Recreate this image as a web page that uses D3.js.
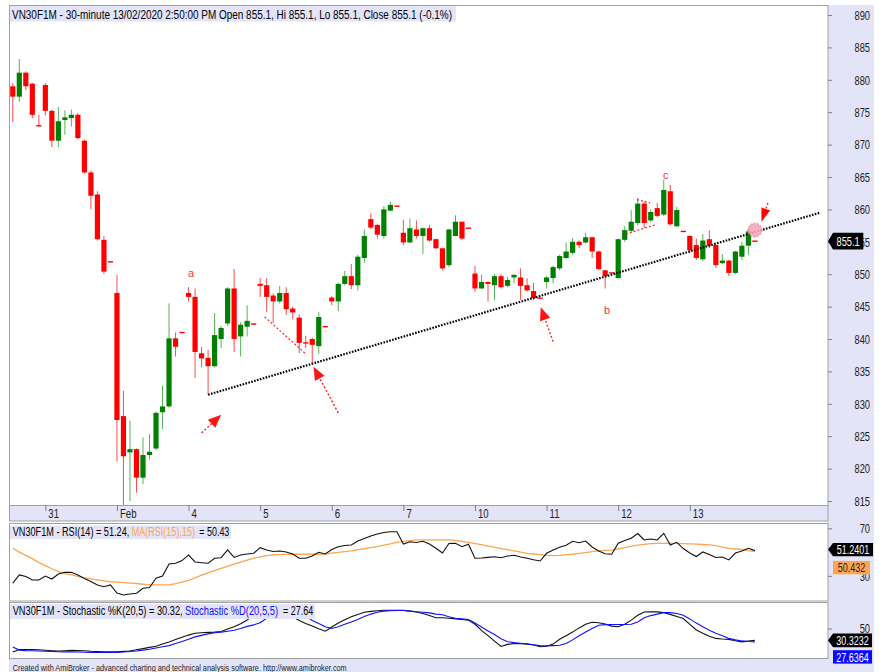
<!DOCTYPE html>
<html>
<head>
<meta charset="utf-8">
<title>VN30F1M 30-minute</title>
<script src="https://cdn.jsdelivr.net/npm/d3@7/dist/d3.min.js"></script>
<style>
  body { margin: 0; background: #fff; }
  svg { display: block; }
</style>
</head>
<body>
<svg id="chart" width="889" height="672"></svg>
<script>
// 30-minute bars, 30 Jan (last 5 bars) .. 13 Feb 2020, 11 bars a day (last one is the ATC dash)
const opens = [
  879.0, 877.4, 881.1, 879.4, 872.9, 879.2, 875.2, 870.6, 873.8, 874.1,
  874.6, 870.6, 865.7, 862.3, 855.3, 851.9, 847.1, 828.1, 822.5, 823.0,
  818.6, 822.1, 823.1, 828.7, 829.6, 840.1, 841.0, 847.1, 846.5, 837.8,
  837.1, 835.8, 840.0, 842.4, 847.8, 840.4, 841.9, 842.3, 848.5, 848.3,
  846.7, 845.8, 847.1, 844.7, 843.3, 839.5, 840.0, 838.9, 841.9, 846.4,
  845.8, 848.5, 849.7, 848.3, 852.5, 858.5, 857.6, 855.9, 859.8, 860.5,
  856.4, 854.9, 856.9, 855.9, 857.1, 855.4, 854.0, 851.4, 855.9, 858.1,
  857.1, 850.1, 847.8, 848.8, 848.3, 849.7, 848.2, 849.5, 849.5, 848.3,
  847.4, 846.3, 848.8, 849.4, 850.9, 852.5, 853.3, 855.0, 854.9, 855.7,
  853.5, 850.6, 850.2, 849.4, 855.3, 856.7, 857.9, 860.9, 858.3, 860.2,
  859.2, 862.8, 857.4, 856.6, 855.9, 854.5, 852.3, 855.4, 854.5, 851.7,
  852.1, 850.2, 852.7, 854.4, 855.1
];
const highs = [
  879.5, 883.2, 881.3, 879.5, 874.6, 879.5, 875.4, 875.8, 875.3, 875.4,
  874.9, 870.8, 866.0, 862.8, 855.9, 851.9, 849.9, 832.0, 827.4, 823.1,
  824.8, 825.3, 828.8, 832.8, 845.5, 841.0, 841.0, 848.0, 847.8, 838.8,
  838.3, 844.0, 842.0, 848.0, 850.8, 842.6, 845.2, 842.3, 849.4, 849.4,
  847.0, 848.2, 848.0, 845.0, 843.8, 840.5, 840.2, 844.2, 841.9, 846.6,
  848.7, 850.5, 851.6, 853.0, 856.9, 859.4, 857.8, 860.5, 861.2, 860.5,
  858.4, 858.6, 858.3, 857.2, 857.6, 855.5, 854.1, 857.0, 859.1, 858.1,
  857.1, 851.3, 849.9, 848.9, 850.0, 850.0, 849.6, 850.0, 850.9, 849.4,
  848.7, 846.3, 849.7, 851.3, 853.0, 854.9, 855.6, 855.2, 856.4, 855.8,
  853.7, 850.7, 850.2, 855.5, 857.4, 859.9, 861.8, 861.2, 860.0, 861.0,
  864.6, 863.8, 860.4, 856.6, 856.0, 855.5, 856.2, 856.8, 854.6, 853.1,
  852.2, 853.6, 855.0, 857.1, 855.1
];
const lows = [
  873.5, 876.6, 878.4, 874.1, 872.9, 874.5, 869.6, 869.6, 871.5, 872.8,
  870.8, 865.5, 860.0, 855.2, 850.0, 851.9, 821.1, 814.4, 815.0, 816.3,
  817.6, 821.4, 822.8, 826.1, 829.4, 837.3, 841.0, 845.8, 834.0, 835.6,
  831.4, 835.6, 838.6, 842.0, 838.0, 837.3, 840.4, 842.3, 846.5, 844.2,
  842.5, 845.5, 843.7, 843.0, 837.8, 838.6, 836.2, 837.7, 841.9, 845.2,
  844.3, 848.3, 847.7, 847.5, 851.8, 857.0, 855.5, 855.5, 859.7, 860.5,
  854.5, 854.8, 855.5, 853.1, 855.0, 853.9, 850.6, 851.1, 855.9, 855.3,
  857.1, 847.3, 847.7, 845.8, 846.0, 847.8, 848.0, 848.6, 846.0, 847.3,
  846.0, 846.3, 847.8, 848.6, 850.6, 852.3, 853.0, 854.0, 854.7, 852.5,
  850.6, 847.8, 850.2, 849.3, 855.0, 856.5, 857.5, 857.1, 858.0, 858.8,
  859.0, 857.5, 857.3, 856.6, 853.3, 852.2, 852.0, 854.0, 851.0, 851.6,
  849.7, 850.0, 852.2, 853.0, 855.1
];
const closes = [
  877.4, 881.1, 879.0, 874.6, 872.9, 875.2, 870.6, 873.6, 874.2, 874.6,
  871.0, 865.7, 862.1, 855.4, 850.4, 851.9, 827.5, 821.9, 823.0, 818.6,
  822.1, 822.6, 828.6, 829.6, 840.1, 838.8, 841.0, 846.5, 838.0, 837.0,
  835.8, 840.6, 841.7, 847.8, 840.0, 842.2, 842.8, 842.3, 848.2, 846.5,
  845.8, 847.1, 844.6, 844.1, 839.4, 839.3, 839.1, 843.4, 841.9, 845.8,
  848.5, 849.7, 848.3, 852.7, 855.9, 857.2, 856.1, 860.0, 860.7, 860.5,
  854.9, 857.1, 855.9, 857.1, 855.2, 854.0, 850.9, 856.9, 858.1, 855.5,
  857.1, 847.8, 848.8, 848.5, 849.7, 848.0, 849.1, 849.9, 848.2, 847.5,
  846.3, 846.3, 849.5, 851.1, 852.8, 853.5, 855.0, 854.5, 855.7, 853.5,
  850.8, 849.7, 850.2, 855.4, 856.8, 858.1, 860.9, 857.9, 859.6, 859.0,
  863.0, 857.7, 859.9, 856.6, 853.7, 852.5, 855.2, 854.4, 851.4, 852.1,
  850.2, 853.5, 854.4, 856.6, 855.1
];

const rsi = [
  24.0, 30.8, 29.5, 26.6, 26.6, 29.9, 27.4, 31.6, 33.0, 33.0,
  30.8, 27.8, 25.3, 22.4, 20.9, 22.4, 15.6, 14.0, 14.8, 15.4,
  19.6, 20.2, 28.0, 29.9, 40.0, 40.6, 42.9, 47.6, 41.7, 41.1,
  40.6, 44.8, 45.3, 51.8, 45.5, 47.6, 48.4, 49.0, 53.7, 51.8,
  50.5, 50.9, 50.1, 48.4, 44.8, 44.8, 46.7, 49.8, 48.4, 52.2,
  54.5, 55.5, 56.0, 59.3, 61.4, 63.5, 65.2, 66.5, 67.1, 67.1,
  56.8, 58.7, 58.1, 59.1, 56.8, 53.2, 49.2, 57.2, 57.4, 54.5,
  56.6, 44.8, 45.0, 45.6, 46.1, 45.3, 46.7, 47.3, 45.9, 44.8,
  43.5, 42.5, 49.0, 51.8, 54.1, 55.7, 59.1, 57.9, 59.3, 54.3,
  50.9, 48.6, 48.2, 57.4, 59.7, 61.6, 65.6, 60.2, 61.0, 60.2,
  65.8, 56.0, 58.2, 53.0, 49.2, 46.3, 50.1, 48.0, 45.5, 45.9,
  43.4, 49.2, 50.9, 53.2, 51.24
];
const rsiMa = [
  53.2, 50.0, 47.3, 44.5, 41.2, 38.6, 36.0, 33.6, 32.0, 30.8,
  29.6, 28.4, 27.5, 26.6, 25.8, 25.1, 24.7, 24.4, 24.0, 23.6,
  23.0, 22.4, 22.4, 22.4, 22.4, 23.5, 24.8, 26.2, 28.3, 30.6,
  32.6, 34.5, 36.3, 38.1, 39.9, 41.6, 43.3, 44.9, 45.9, 47.0,
  47.7, 47.9, 48.1, 48.2, 48.2, 48.2, 48.2, 48.2, 48.4, 49.1,
  49.8, 50.4, 51.1, 52.0, 52.8, 53.7, 54.6, 55.8, 56.9, 58.1,
  59.0, 59.6, 60.2, 60.2, 60.2, 60.2, 60.2, 60.2, 59.8, 59.0,
  58.1, 57.2, 56.2, 55.1, 54.1, 53.0, 52.0, 51.0, 50.0, 49.0,
  48.4, 47.8, 47.2, 47.0, 47.3, 47.8, 48.2, 48.9, 49.6, 50.4,
  51.1, 51.4, 51.7, 52.6, 53.8, 55.0, 55.9, 56.5, 57.1, 57.4,
  57.4, 57.4, 57.3, 57.1, 56.9, 56.7, 56.4, 56.1, 55.5, 54.1,
  53.1, 52.6, 52.2, 51.2, 50.43
];
const stochK = [
  11, 15, 15, 15, 14.5, 13.8, 13, 12.4, 13, 13.6,
  13.2, 12.8, 12, 11.5, 11, 11, 11, 11.8, 12.5, 14.5,
  16.5, 18.5, 20.5, 24, 27.5, 31.5, 35.5, 39, 42, 43,
  43.5, 44, 45, 49, 53, 58, 64, 72, 80, 85,
  88, 85, 78, 70, 63.5, 58.5, 54, 49.5, 45.5, 52.5,
  59, 64.5, 69.5, 73.5, 77, 78.5, 79.5, 80.5, 80.5, 80.5,
  80.5, 79, 77.5, 75, 71.5, 68, 68, 67, 66, 65,
  64, 57, 47, 38, 29, 20, 23.5, 25, 24.5, 24,
  22.5, 19.5, 20.5, 24, 32, 38, 44, 51, 57, 60.5,
  59.5, 57.5, 54, 53, 57, 64, 72, 77.5, 77.7, 77.7,
  76.5, 73.5, 70, 66.7, 57, 47.5, 42, 37, 33.5, 32.5,
  31.8, 29.5, 27.7, 29, 30.32
];
const stochD = [
  19.3, 14, 13.2, 12.8, 12.4, 12.2, 11.8, 11.2, 11, 11,
  10.8, 10.5, 10.2, 10, 10, 10, 10, 10.8, 11.8, 12.5,
  14, 15.5, 17.5, 19.5, 21.5, 25, 28.5, 32, 36, 38.5,
  41, 43, 44, 45.5, 47, 50, 53.5, 56, 59.5, 67,
  72, 77, 80, 80, 77, 71, 63.5, 58.5, 53, 50,
  53, 57, 61, 65, 70, 74, 77, 79, 79.5, 80,
  80, 79, 78, 77, 76, 74, 73, 69.5, 67, 66,
  65, 59, 52.5, 46, 40, 33, 28, 26.5, 25.5, 24.5,
  23, 21.5, 21, 21.5, 22, 25, 31, 38, 44, 50,
  55.5, 56.5, 56.7, 56.7, 56.7, 57, 61, 68, 71.5, 74,
  76.5, 76.5, 75, 72.2, 66, 59, 53, 47, 42, 38,
  33.5, 31, 29.3, 28.3, 27.64
];

const dayLabels = ['31', 'Feb', '4', '5', '6', '7', '10', '11', '12', '13'];
const dayStartBars = [5, 16, 27, 38, 49, 60, 71, 82, 93, 104];
const priceTicks = [815, 820, 825, 830, 835, 840, 845, 850, 855, 860, 865, 870, 875, 880, 885, 890];
const rsiTicks = [30, 70];
const stochTicks = [50];

// hand-drawn annotations, in [bar, price]
const trendLine = [[30, 831.4], [124, 859.5]];
const redDashes = [
  [[38.7, 843.4], [44.9, 837.8]],
  [[94.2, 856.2], [98.6, 857.6]],
  [[95.9, 861.5], [97.9, 861.0]]
];
const arrows = [
  { from: [50.0, 828.6], to: [46.2, 835.7] },
  { from: [29.0, 825.5], to: [32.0, 828.3] },
  { from: [83.0, 839.6], to: [81.1, 844.9] },
  { from: [116.0, 861.0], to: [115.0, 858.1] }
];
const waveLabels = [
  { text: 'a', bar: 27.4, price: 850.2 },
  { text: 'b', bar: 91.3, price: 844.5 },
  { text: 'c', bar: 100.3, price: 865.3 }
];
const marker = { bar: 114.0, price: 856.8 };

const titleMain = 'VN30F1M - 30-minute 13/02/2020 2:50:00 PM Open 855.1, Hi 855.1, Lo 855.1, Close 855.1 (-0.1%)';
const lastClose = 855.1, lastRsi = 51.2401, lastRsiMa = 50.432, lastK = 30.3232, lastD = 27.6364;

// ---------------------------------------------------------------------------
const svg = d3.select('#chart');
const FONT = '"Liberation Sans", Arial, sans-serif';
const LAV = '#e4e4f8';
const FRAME = '#a0a0a0';
const L = 10, R = 828;

const x = d3.scaleLinear().domain([0, 114]).range([12.8, 754.9]);
const yPrice = d3.scaleLinear().domain([815, 890]).range([501, 15]);
const yRsi = d3.scaleLinear().domain([30, 70]).range([575.9, 528.3]);
const yStoch = d3.scaleLinear().domain([0, 100]).range([658.5, 598.5]);

function squeeze(sel, k) {
  sel.each(function () {
    const w = this.getComputedTextLength();
    d3.select(this).attr('textLength', w * k).attr('lengthAdjust', 'spacingAndGlyphs');
  });
}

// backgrounds
svg.append('rect').attr('width', 889).attr('height', 672).attr('fill', '#fff');
svg.append('rect').attr('x', R).attr('y', 5).attr('width', 46).attr('height', 667).attr('fill', LAV);
svg.append('rect').attr('x', 9).attr('y', 659).attr('width', 865).attr('height', 13).attr('fill', LAV);
svg.append('rect').attr('x', L).attr('y', 505).attr('width', R - L).attr('height', 16).attr('fill', LAV);

const defs = svg.append('defs');
[['clip-main', 5, 505], ['clip-rsi', 523.5, 601], ['clip-stoch', 602, 658.5]].forEach(([id, t, b]) => {
  defs.append('clipPath').attr('id', id).append('rect')
    .attr('x', L).attr('y', t).attr('width', R - L).attr('height', b - t);
});

// ---- main pane: candles
const main = svg.append('g').attr('clip-path', 'url(#clip-main)');
const bars = opens.map((o, i) => ({ i, o, h: highs[i], l: lows[i], c: closes[i] }));
const up = (d) => d.c > d.o;

main.selectAll('line.wick').data(bars).join('line')
  .attr('class', 'wick')
  .attr('x1', (d) => x(d.i)).attr('x2', (d) => x(d.i))
  .attr('y1', (d) => yPrice(d.h)).attr('y2', (d) => yPrice(d.l))
  .attr('stroke', (d) => (up(d) ? '#55b455' : '#ff4a4a')).attr('stroke-width', 1);

main.selectAll('rect.body').data(bars).join('rect')
  .attr('class', 'body')
  .attr('x', (d) => x(d.i) - 2.6).attr('width', 5.2)
  .attr('y', (d) => yPrice(Math.max(d.o, d.c)) - (d.o === d.c ? 0.7 : 0))
  .attr('height', (d) => Math.max(1.4, Math.abs(yPrice(d.o) - yPrice(d.c))))
  .attr('fill', (d) => (up(d) ? '#008000' : '#ff0000'));

// red dotted helper lines
const pline = d3.line().x((d) => x(d[0])).y((d) => yPrice(d[1]));
main.selectAll('path.rdash').data(redDashes).join('path')
  .attr('class', 'rdash').attr('d', pline)
  .attr('fill', 'none').attr('stroke', '#ff2020').attr('stroke-width', 1.2).attr('stroke-dasharray', '2,2');

// arrows
const headSize = [13, 13, 13, 13.5];
const headWidth = [0.42, 0.42, 0.42, 0.34];
arrows.forEach((a, k) => {
  const x0 = x(a.from[0]), y0 = yPrice(a.from[1]);
  const x1 = x(a.to[0]), y1 = yPrice(a.to[1]);
  const ang = Math.atan2(y1 - y0, x1 - x0);
  const len = headSize[k], hw = len * headWidth[k];
  const bx = x1 - len * Math.cos(ang), by = y1 - len * Math.sin(ang);
  main.append('line').attr('x1', x0).attr('y1', y0).attr('x2', bx).attr('y2', by)
    .attr('stroke', '#ff2020').attr('stroke-width', 1.4).attr('stroke-dasharray', '2,2');
  main.append('path')
    .attr('d', `M${x1},${y1}L${bx - hw * Math.sin(ang)},${by + hw * Math.cos(ang)}L${bx + hw * Math.sin(ang)},${by - hw * Math.cos(ang)}Z`)
    .attr('fill', '#ff0000').attr('opacity', k === 3 ? 1 : 0.92);
});

// trend line
main.append('path').attr('d', pline(trendLine))
  .attr('fill', 'none').attr('stroke', '#000').attr('stroke-width', 2.2).attr('stroke-dasharray', '1.6,1.4');

// highlight circle
main.append('circle').attr('cx', x(marker.bar)).attr('cy', yPrice(marker.price)).attr('r', 7)
  .attr('fill', '#f2a6bd').attr('fill-opacity', 0.9)
  .attr('stroke', '#ff7a95').attr('stroke-width', 1).attr('stroke-dasharray', '2,1.5');

main.selectAll('text.wave').data(waveLabels).join('text')
  .attr('class', 'wave')
  .attr('x', (d) => x(d.bar)).attr('y', (d) => yPrice(d.price)).attr('dy', '0.35em')
  .attr('text-anchor', 'middle').attr('font-family', FONT).attr('font-size', 11)
  .attr('fill', '#ff3030').text((d) => d.text);

// ---- RSI pane
const rsiG = svg.append('g').attr('clip-path', 'url(#clip-rsi)');
rsiG.append('path').datum(rsiMa)
  .attr('d', d3.line().x((d, i) => x(i)).y((d) => yRsi(d)))
  .attr('fill', 'none').attr('stroke', '#ffa54f').attr('stroke-width', 1.3);
rsiG.append('path').datum(rsi)
  .attr('d', d3.line().x((d, i) => x(i)).y((d) => yRsi(d)))
  .attr('fill', 'none').attr('stroke', '#111').attr('stroke-width', 1.1);

// ---- Stochastic pane
const stG = svg.append('g').attr('clip-path', 'url(#clip-stoch)');
stG.append('path').datum(stochK)
  .attr('d', d3.line().x((d, i) => x(i)).y((d) => yStoch(d)))
  .attr('fill', 'none').attr('stroke', '#111').attr('stroke-width', 1.1);
stG.append('path').datum(stochD)
  .attr('d', d3.line().x((d, i) => x(i)).y((d) => yStoch(d)))
  .attr('fill', 'none').attr('stroke', '#1010ff').attr('stroke-width', 1.1);

// ---- frames
const frame = svg.append('g').attr('fill', 'none').attr('stroke', FRAME).attr('stroke-width', 1);
frame.append('rect').attr('x', 9.5).attr('y', 5.5).attr('width', R - 9.5).attr('height', 515.5);
frame.append('line').attr('x1', 9.5).attr('x2', R).attr('y1', 505.5).attr('y2', 505.5);
frame.append('rect').attr('x', 9.5).attr('y', 523.5).attr('width', R - 9.5).attr('height', 77.5);
frame.append('rect').attr('x', 9.5).attr('y', 602.5).attr('width', R - 9.5).attr('height', 56);

// ---- axes
function styleRightAxis(g, fontSize) {
  g.attr('font-family', FONT).attr('font-size', fontSize);
  g.select('.domain').remove();
  g.selectAll('.tick line').attr('stroke', '#808080');
  g.selectAll('.tick text').attr('x', 42).attr('text-anchor', 'end').attr('fill', '#222');
  squeeze(g.selectAll('.tick text'), 0.69);
}
svg.append('g').attr('transform', `translate(${R},0)`)
  .call(d3.axisRight(yPrice).tickValues(priceTicks).tickSize(4).tickFormat(d3.format('d')))
  .call((g) => styleRightAxis(g, 13.5));
svg.append('g').attr('transform', `translate(${R},0)`)
  .call(d3.axisRight(yRsi).tickValues(rsiTicks).tickSize(4).tickFormat(d3.format('d')))
  .call((g) => styleRightAxis(g, 13.5));
svg.append('g').attr('transform', `translate(${R},0)`)
  .call(d3.axisRight(yStoch).tickValues(stochTicks).tickSize(4).tickFormat(d3.format('d')))
  .call((g) => styleRightAxis(g, 13.5));

const xa = svg.append('g').attr('transform', 'translate(0,505)')
  .call(d3.axisBottom(x).tickValues(dayStartBars).tickSize(6).tickFormat((d, i) => dayLabels[i]));
xa.attr('font-family', FONT).attr('font-size', 12);
xa.select('.domain').remove();
xa.selectAll('.tick line').attr('stroke', '#808080');
xa.selectAll('.tick text').attr('x', 2.5).attr('y', 4).attr('dy', '0.71em')
  .attr('text-anchor', 'start').attr('fill', '#222');
squeeze(xa.selectAll('.tick text'), 0.8);

// ---- value tags on the right axis
function tag(cy, label, fill, color, pointed, x0, x1, h, fs) {
  const g = svg.append('g');
  if (pointed) {
    g.append('path')
      .attr('d', `M${R},${cy}L${R + 5},${cy - h / 2}L${x1},${cy - h / 2}L${x1},${cy + h / 2}L${R + 5},${cy + h / 2}Z`)
      .attr('fill', fill);
  } else {
    g.append('rect').attr('x', x0).attr('y', cy - h / 2).attr('width', x1 - x0).attr('height', h).attr('fill', fill);
  }
  const t = g.append('text').attr('x', (Math.max(x0, R + 5) + x1) / 2).attr('y', cy).attr('dy', '0.36em')
    .attr('text-anchor', 'middle').attr('font-family', FONT).attr('font-size', fs)
    .attr('fill', color).text(label);
  squeeze(t, 0.69);
}
tag(yPrice(lastClose), '855.1', '#000', '#fff', true, R, 863.3, 16.6, 13.5);
const rsiTagY = yRsi(lastRsi) - 1;
tag(rsiTagY, '51.2401', '#000', '#fff', true, R, 873, 13.4, 13);
tag(rsiTagY + 18, '50.432', '#ffa54f', '#222', false, 833, 870, 13.4, 13);
const stTagY = yStoch(lastK);
tag(stTagY, '30.3232', '#000', '#fff', true, R, 872, 13.8, 13);
tag(stTagY + 16.6, '27.6364', '#0a0aff', '#fff', false, 833, 872, 13.4, 13);

// ---- titles
function titleBox(x0, y0, w, h) {
  svg.append('rect').attr('x', x0).attr('y', y0).attr('width', w).attr('height', h).attr('fill', LAV);
}
function titleText(str, x0, base, width, color, fs) {
  svg.append('text').attr('x', x0).attr('y', base)
    .attr('font-family', FONT).attr('font-size', fs).attr('fill', color)
    .attr('textLength', width).attr('lengthAdjust', 'spacingAndGlyphs').text(str);
}
titleBox(10, 6, 446, 15.5);
titleText(titleMain, 12, 19.3, 440, '#000', 12);

titleBox(10, 525.5, 221, 13.5);
titleText('VN30F1M - RSI(14) = 51.24,', 12.7, 536.4, 116.6, '#000', 12);
titleText('MA(RSI(15),15)', 131.7, 536.4, 63.3, '#ffa54f', 12);
titleText('= 50.43', 199.3, 536.4, 30, '#000', 12);

titleBox(10, 604, 305, 15);
titleText('VN30F1M - Stochastic %K(20,5) = 30.32,', 12.7, 614.6, 170, '#000', 12);
titleText('Stochastic %D(20,5,5)', 185, 614.6, 93, '#1010ff', 12);
titleText('= 27.64', 283, 614.6, 30.3, '#000', 12);

titleText('Created with AmiBroker - advanced charting and technical analysis software. http://www.amibroker.com',
  12.7, 671, 334, '#222', 9.5);
</script>
</body>
</html>
